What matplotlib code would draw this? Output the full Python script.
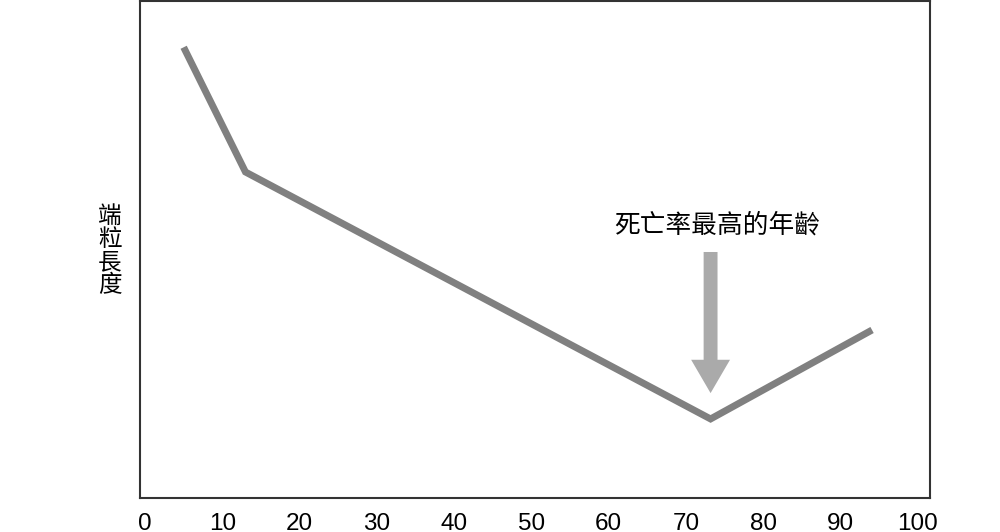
import matplotlib
matplotlib.use("Agg")
import matplotlib.pyplot as plt

plt.rcParams['font.family'] = ['Liberation Sans', 'Noto Sans CJK TC', 'DejaVu Sans']

# data
ages = [5, 13, 73.2, 94.1]
telomere = [90.7, 65.6, 15.9, 33.8]
xticks = [0, 10, 20, 30, 40, 50, 60, 70, 80, 90, 100]
ylabel = "端粒長度"
note = "死亡率最高的年齡"
arrow_x = 73.2
arrow_from = 49.5
arrow_to = 21.1

fig = plt.figure(figsize=(10, 5.32), dpi=100)
ax = fig.add_axes([0.14, 0.064, 0.79, 0.934])

ax.plot(ages, telomere, color="#808080", linewidth=5, solid_capstyle="butt",
        solid_joinstyle="miter")

ax.annotate("", xy=(arrow_x, arrow_to), xytext=(arrow_x, arrow_from),
            arrowprops=dict(arrowstyle="simple,head_length=2.4,head_width=2.8,tail_width=1.0",
                            mutation_scale=10, color="#aaaaaa", ec="none",
                            shrinkA=0, shrinkB=0))
ax.text(74.1, 54.9, note, ha="center", va="center", fontsize=18.5,
        family=['Noto Sans CJK TC', 'DejaVu Sans'])

ax.set_xlim(-0.65, 101.6)
ax.set_ylim(0, 100)
ax.set_xticks(xticks)
ax.set_xticklabels([str(t) for t in xticks], fontsize=17.5)
ax.set_yticks([])
ax.tick_params(axis="x", length=0, pad=11)
for s in ax.spines.values():
    s.set_color("#333333")
    s.set_linewidth(1.5)

fig.text(0.110, (532 - 251) / 532, "\n".join(ylabel), ha="center", va="center",
         fontsize=17, linespacing=1.02, family=['Noto Sans CJK TC', 'DejaVu Sans'])

fig.savefig("out.png", dpi=100)
